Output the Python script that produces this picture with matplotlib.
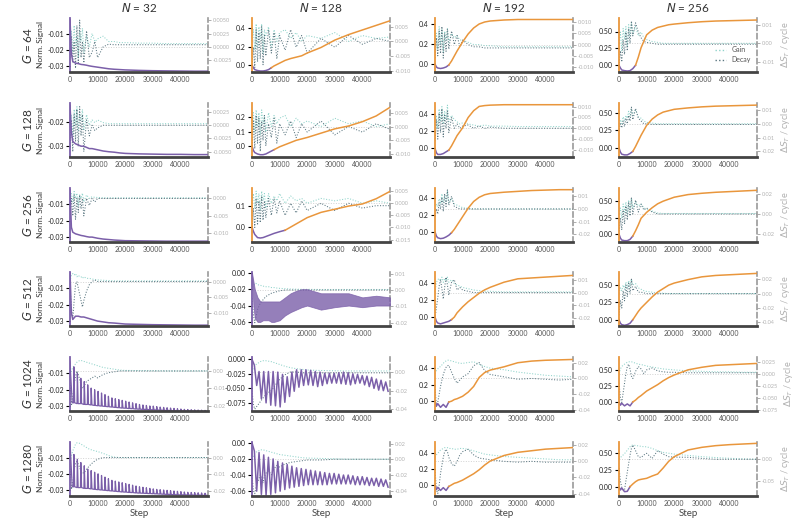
import numpy as np
import matplotlib
matplotlib.use("Agg")
import matplotlib.pyplot as plt
from matplotlib.ticker import FormatStrFormatter
from matplotlib.lines import Line2D

plt.rcParams['font.family'] = ['Lato', 'DejaVu Sans']

N_VALUES = [32, 128, 192, 256]
G_VALUES = [64, 128, 256, 512, 1024, 1280]

SIG_STEPS = [0, 500, 1000, 2000, 3000, 4000, 5000, 6000, 7000, 8000, 10000, 12000,
             14000, 16000, 18000, 20000, 25000, 30000, 35000, 40000, 45000, 50000]
GD_STEPS = [0, 500, 1000, 1500, 2000, 2500, 3000, 3500, 4000, 4500, 5000, 6000, 7000,
            8000, 9000, 10000, 12000, 14000, 16000, 18000, 20000, 25000, 30000, 35000,
            40000, 45000, 50000]

# ---- normalised signal ----
sig_g64_n32 = [-0.001, -0.022, -0.027, -0.028, -0.0283, -0.0288, -0.029, -0.0293, -0.0297, -0.030, -0.0305,
               -0.031, -0.0315, -0.0318, -0.032, -0.0322, -0.0325, -0.0327, -0.0328, -0.0329, -0.033, -0.033]
sig_g64_n128 = [0.0, -0.03, -0.05, -0.06, -0.065, -0.065, -0.06, -0.05, -0.03, -0.01, 0.02, 0.05,
                0.07, 0.085, 0.10, 0.13, 0.19, 0.27, 0.33, 0.38, 0.43, 0.48]
sig_g64_n192 = [0.0, -0.03, -0.04, -0.045, -0.04, -0.03, -0.01, 0.03, 0.08, 0.13, 0.22, 0.30,
                0.36, 0.40, 0.42, 0.43, 0.44, 0.445, 0.445, 0.445, 0.445, 0.445]
sig_g64_n256 = [0.0, -0.04, -0.07, -0.08, -0.085, -0.08, -0.05, 0.0, 0.12, 0.26, 0.45, 0.52,
                0.56, 0.58, 0.60, 0.61, 0.63, 0.645, 0.655, 0.66, 0.665, 0.67]
sig_g128_n32 = [-0.013, -0.024, -0.028, -0.029, -0.0295, -0.030, -0.030, -0.0305, -0.031, -0.031, -0.0315,
                -0.032, -0.0323, -0.0325, -0.0328, -0.033, -0.0332, -0.0333, -0.0334, -0.0334, -0.0335, -0.0335]
sig_g128_n128 = [0.0, -0.03, -0.045, -0.055, -0.06, -0.06, -0.055, -0.045, -0.035, -0.025, -0.005, 0.01,
                 0.025, 0.04, 0.05, 0.06, 0.09, 0.12, 0.14, 0.17, 0.21, 0.27]
sig_g128_n192 = [0.0, -0.05, -0.07, -0.07, -0.06, -0.04, -0.02, 0.03, 0.09, 0.15, 0.24, 0.36,
                 0.44, 0.49, 0.50, 0.505, 0.51, 0.51, 0.51, 0.51, 0.51, 0.51]
sig_g128_n256 = [0.0, -0.06, -0.09, -0.10, -0.10, -0.08, -0.05, 0.02, 0.10, 0.18, 0.32, 0.41,
                 0.47, 0.51, 0.53, 0.55, 0.57, 0.585, 0.595, 0.60, 0.605, 0.61]
sig_g256_n32 = [-0.001, -0.024, -0.027, -0.028, -0.0285, -0.029, -0.0293, -0.0297, -0.030, -0.030, -0.0307,
                -0.0312, -0.0315, -0.0318, -0.032, -0.0322, -0.0323, -0.0324, -0.0325, -0.0325, -0.0325, -0.0325]
sig_g256_n128 = [0.0, -0.02, -0.035, -0.05, -0.052, -0.05, -0.045, -0.04, -0.035, -0.03, -0.022, -0.015,
                 0.0, 0.015, 0.03, 0.045, 0.07, 0.085, 0.10, 0.11, 0.135, 0.17]
sig_g256_n192 = [0.0, -0.05, -0.07, -0.08, -0.075, -0.06, -0.04, -0.01, 0.03, 0.08, 0.18, 0.28,
                 0.36, 0.41, 0.44, 0.455, 0.47, 0.48, 0.49, 0.495, 0.50, 0.50]
sig_g256_n256 = [0.0, -0.06, -0.09, -0.10, -0.10, -0.08, -0.03, 0.05, 0.14, 0.24, 0.33, 0.40,
                 0.46, 0.50, 0.53, 0.56, 0.60, 0.62, 0.635, 0.645, 0.655, 0.665]
sig_g512_n32 = [0.0, -0.025, -0.029, -0.027, -0.027, -0.0275, -0.0275, -0.028, -0.0285, -0.029, -0.030,
                -0.0305, -0.031, -0.0312, -0.0315, -0.0318, -0.032, -0.0322, -0.0323, -0.0324, -0.0325, -0.0325]
sig_g512_n192 = [0.0, -0.05, -0.07, -0.08, -0.07, -0.06, -0.05, -0.03, 0.0, 0.05, 0.12, 0.18,
                 0.23, 0.28, 0.32, 0.35, 0.41, 0.45, 0.46, 0.47, 0.48, 0.49]
sig_g512_n256 = [0.0, -0.05, -0.07, -0.08, -0.07, -0.05, 0.0, 0.06, 0.12, 0.17, 0.25, 0.33,
                 0.40, 0.45, 0.50, 0.53, 0.58, 0.62, 0.64, 0.65, 0.66, 0.67]
sig_g1024_n192 = [0.0, -0.06, -0.03, -0.075, -0.04, -0.075, -0.01, 0.0, 0.02, 0.03, 0.06, 0.11,
                  0.18, 0.29, 0.35, 0.38, 0.42, 0.47, 0.49, 0.50, 0.505, 0.51]
sig_g1024_n256 = [0.0, -0.05, -0.02, -0.06, -0.03, -0.06, 0.0, 0.03, 0.07, 0.10, 0.17, 0.22,
                  0.27, 0.33, 0.38, 0.42, 0.50, 0.54, 0.57, 0.58, 0.59, 0.60]
sig_g1280_n192 = [0.0, -0.06, -0.03, -0.07, -0.035, -0.07, -0.02, 0.0, 0.02, 0.03, 0.06, 0.10,
                  0.14, 0.19, 0.25, 0.30, 0.37, 0.41, 0.43, 0.45, 0.46, 0.47]
sig_g1280_n256 = [0.0, -0.05, -0.02, -0.075, -0.07, 0.0, 0.04, 0.075, 0.10, 0.11, 0.125, 0.16,
                  0.19, 0.28, 0.38, 0.45, 0.55, 0.59, 0.615, 0.63, 0.64, 0.65]

# G=512, N=128: dense oscillation, read as upper / lower edge
band_hi_g512_n128 = [0.0, -0.01, -0.02, -0.03, -0.035, -0.035, -0.035, -0.035, -0.035, -0.035, -0.035,
                     -0.03, -0.025, -0.022, -0.02, -0.02, -0.025, -0.025, -0.025, -0.03, -0.028, -0.03]
band_lo_g512_n128 = [0.0, -0.04, -0.055, -0.06, -0.06, -0.058, -0.058, -0.058, -0.06, -0.06, -0.058,
                     -0.052, -0.048, -0.045, -0.042, -0.04, -0.045, -0.042, -0.04, -0.042, -0.04, -0.04]

# N=32 spikes (G=1024, G=1280): spike tops and baseline
SPIKE_START, SPIKE_EVERY = 1300, 1250
spk_top_g1024_n32 = [-0.006, -0.010, -0.013, -0.015, -0.017, -0.019, -0.020, -0.021, -0.022, -0.023,
                     -0.024, -0.025, -0.0255, -0.026, -0.0265, -0.027, -0.0275, -0.028, -0.0285, -0.029,
                     -0.0293, -0.0296, -0.0299, -0.030, -0.0303, -0.0306, -0.0308, -0.031, -0.0312, -0.0314,
                     -0.0316, -0.0318, -0.032, -0.0321, -0.0322, -0.0323, -0.0324, -0.0325, -0.0326]
spk_base_g1024_n32 = [-0.028, -0.0285, -0.0285, -0.029, -0.029, -0.0293, -0.0296, -0.0298, -0.030, -0.0302,
                      -0.0304, -0.0306, -0.0308, -0.031, -0.0312, -0.0313, -0.0315, -0.0316, -0.0318, -0.0319,
                      -0.032, -0.0321, -0.0322, -0.0323, -0.0324, -0.0325, -0.0326, -0.0327, -0.0328, -0.0329,
                      -0.033, -0.033, -0.033, -0.0331, -0.0331, -0.0332, -0.0332, -0.0333, -0.0333]
spk_top_g1280_n32 = [-0.008, -0.011, -0.013, -0.015, -0.017, -0.018, -0.019, -0.020, -0.021, -0.022,
                     -0.023, -0.024, -0.0245, -0.025, -0.0255, -0.026, -0.0265, -0.027, -0.0275, -0.028,
                     -0.0283, -0.0286, -0.029, -0.0293, -0.0296, -0.0298, -0.030, -0.0302, -0.0304, -0.0306,
                     -0.0308, -0.031, -0.0312, -0.0314, -0.0315, -0.0316, -0.0317, -0.0318, -0.032]
spk_base_g1280_n32 = [-0.028, -0.0285, -0.0285, -0.029, -0.029, -0.0293, -0.0296, -0.0298, -0.030, -0.0302,
                      -0.0304, -0.0306, -0.0308, -0.031, -0.0312, -0.0313, -0.0315, -0.0316, -0.0318, -0.0319,
                      -0.032, -0.0321, -0.0322, -0.0323, -0.0324, -0.0325, -0.0326, -0.0327, -0.0328, -0.0329,
                      -0.033, -0.033, -0.033, -0.0331, -0.0331, -0.0332, -0.0332, -0.0333, -0.0333]

# N=128 zig-zag (G=1024, G=1280): troughs at 0,1700,... peaks half way between
ZZ_HALF = 850
zz_trough_g1024_n128 = [0.0, -0.045, -0.068, -0.075, -0.079, -0.080, -0.082, -0.074, -0.064, -0.055,
                        -0.048, -0.045, -0.044, -0.045, -0.047, -0.045, -0.042, -0.041, -0.041, -0.042,
                        -0.043, -0.044, -0.042, -0.041, -0.044, -0.047, -0.050, -0.053, -0.054, -0.055]
zz_peak_g1024_n128 = [-0.010, -0.021, -0.021, -0.021, -0.021, -0.022, -0.026, -0.030, -0.022, -0.018,
                      -0.018, -0.018, -0.019, -0.021, -0.022, -0.024, -0.024, -0.024, -0.023, -0.022,
                      -0.023, -0.025, -0.026, -0.028, -0.029, -0.031, -0.034, -0.036, -0.039]
zz_trough_g1280_n128 = [0.0, -0.060, -0.064, -0.065, -0.064, -0.062, -0.060, -0.058, -0.056, -0.055,
                        -0.054, -0.053, -0.052, -0.052, -0.052, -0.052, -0.052, -0.051, -0.051, -0.051,
                        -0.051, -0.051, -0.052, -0.052, -0.052, -0.053, -0.053, -0.054, -0.054, -0.055]
zz_peak_g1280_n128 = [-0.010, -0.012, -0.015, -0.018, -0.020, -0.023, -0.025, -0.027, -0.029, -0.031,
                      -0.032, -0.033, -0.034, -0.035, -0.036, -0.037, -0.038, -0.038, -0.039, -0.040,
                      -0.040, -0.041, -0.042, -0.042, -0.043, -0.044, -0.044, -0.045, -0.046]

# ---- gain / decay per cycle ----
gain_g64_n32 = [0.001, 0.003, -0.001, 0.004, 0.0, 0.002, -0.002, 0.003, 0.001, 0.0035, -0.001, 0.002, 0.0, 0.0025,
                0.001, 0.0015, 0.002, 0.001, 0.001, 0.0008, 0.0008, 0.0007, 0.0007, 0.0006, 0.0006, 0.0006, 0.0006]
decay_g64_n32 = [-0.002, 0.002, -0.003, 0.001, -0.004, 0.004, -0.003, 0.005, -0.002, 0.001, -0.003, 0.003, -0.002,
                 -0.001, 0.001, -0.002, 0.0, 0.0005, 0.0004, 0.0004, 0.0004, 0.0004, 0.0004, 0.0004, 0.0004, 0.0004, 0.0004]
gain_g64_n128 = [0.0, 0.004, -0.003, 0.006, -0.002, 0.005, 0.001, 0.006, -0.004, 0.004, 0.002, 0.005, -0.002, 0.004,
                 0.0, 0.003, 0.004, 0.001, 0.003, 0.0, 0.002, 0.001, 0.003, 0.0, 0.002, 0.001, 0.0015]
decay_g64_n128 = [-0.008, -0.002, -0.009, 0.004, -0.007, 0.003, -0.006, 0.005, -0.008, 0.002, -0.005, 0.004, -0.004,
                  0.003, -0.006, 0.002, -0.003, 0.004, -0.002, 0.002, -0.004, 0.001, -0.002, 0.002, -0.001, 0.001, 0.0]
gain_g64_n192 = [0.0, 0.005, -0.002, 0.008, 0.0, 0.007, -0.003, 0.006, 0.002, 0.007, 0.001, 0.005, 0.003, 0.004,
                 0.002, 0.002, 0.001, 0.0, 0.0, -0.0005, -0.0005, -0.001, -0.001, -0.001, -0.001, -0.001, -0.001]
decay_g64_n192 = [-0.006, 0.003, -0.005, 0.006, -0.004, 0.008, -0.006, 0.005, -0.003, 0.007, -0.002, 0.006, 0.0,
                  0.004, -0.001, 0.002, 0.0, -0.001, -0.001, -0.0015, -0.0015, -0.0015, -0.0015, -0.0015, -0.0015,
                  -0.0015, -0.0015]
gain_g64_n256 = [0.0, 0.006, -0.004, 0.008, 0.002, 0.009, -0.002, 0.01, 0.004, 0.011, 0.005, 0.009, 0.004, 0.006,
                 0.003, 0.002, 0.001, 0.0005, 0.0, 0.0, 0.0, 0.0, 0.0, 0.0, 0.0, 0.0, 0.0]
decay_g64_n256 = [-0.012, -0.004, -0.01, 0.002, -0.006, 0.006, -0.004, 0.008, 0.0, 0.012, 0.004, 0.011, 0.006,
                  0.003, 0.001, 0.0005, 0.0, -0.0005, -0.0005, -0.0005, -0.0005, -0.0005, -0.0005, -0.0005, -0.0005,
                  -0.0005, -0.0005]
gain_g128_n32 = [0.0, 0.002, -0.002, 0.003, 0.0, 0.0035, -0.001, 0.002, 0.001, 0.003, -0.001, 0.002, 0.0, 0.001,
                 0.0005, 0.001, 0.0005, 0.0003, 0.0003, 0.0003, 0.0003, 0.0003, 0.0003, 0.0003, 0.0003, 0.0003, 0.0003]
decay_g128_n32 = [-0.004, 0.001, -0.005, 0.002, -0.003, 0.003, -0.004, 0.0035, -0.002, 0.002, -0.005, 0.001, -0.002,
                  0.0, -0.001, -0.0005, 0.0, 0.0, 0.0, 0.0, 0.0, 0.0, 0.0, 0.0, 0.0, 0.0, 0.0]
gain_g128_n128 = [0.0, 0.005, -0.002, 0.006, 0.0, 0.005, -0.003, 0.006, 0.001, 0.004, -0.002, 0.005, 0.0, 0.004,
                  0.001, 0.003, 0.004, 0.0, 0.003, 0.001, 0.002, 0.0, 0.003, 0.001, 0.002, 0.0, 0.001]
decay_g128_n128 = [-0.009, 0.002, -0.008, 0.004, -0.006, 0.003, -0.009, 0.002, -0.005, 0.004, -0.007, 0.001, -0.004,
                   0.003, -0.006, 0.001, -0.003, 0.002, -0.004, 0.001, -0.002, 0.002, -0.003, 0.0, -0.002, 0.001, -0.001]
gain_g128_n192 = [0.0, 0.006, 0.0, 0.009, 0.003, 0.01, 0.002, 0.008, 0.004, 0.0107, 0.003, 0.006, 0.004, 0.003,
                  0.002, 0.0025, 0.002, 0.0015, 0.001, 0.0015, 0.001, 0.001, 0.0008, 0.0008, 0.0008, 0.0008, 0.0008]
decay_g128_n192 = [-0.006, 0.004, -0.005, 0.007, -0.002, 0.009, -0.004, 0.006, 0.0, 0.008, -0.002, 0.005, 0.0,
                   0.002, 0.0, 0.001, 0.0015, 0.0, 0.001, 0.0, 0.0005, 0.0, 0.0, 0.0, 0.0, 0.0, 0.0]
gain_g128_n256 = [0.0, 0.003, 0.0, 0.005, 0.002, 0.006, 0.004, 0.009, 0.005, 0.011, 0.006, 0.010, 0.005, 0.004,
                  0.002, 0.001, 0.0005, 0.0, 0.0, 0.0, 0.0, 0.0, 0.0, 0.0, 0.0, 0.0, 0.0]
decay_g128_n256 = [-0.004, 0.0, -0.003, 0.002, -0.002, 0.004, 0.0, 0.006, 0.002, 0.012, 0.003, 0.011, 0.004, 0.002,
                   0.0, 0.0, -0.0005, -0.0005, -0.0005, -0.0005, -0.0005, -0.0005, -0.0005, -0.0005, -0.0005,
                   -0.0005, -0.0005]
gain_g256_n32 = [0.0, 0.0015, -0.001, 0.002, 0.0, 0.0015, -0.002, 0.001, 0.0, 0.0015, -0.001, 0.001, 0.0, 0.0005,
                 0.0003, 0.0003, 0.0002, 0.0002, 0.0002, 0.0002, 0.0002, 0.0002, 0.0002, 0.0002, 0.0002, 0.0002, 0.0002]
decay_g256_n32 = [-0.004, 0.0, -0.005, 0.001, -0.006, 0.0, -0.004, 0.001, -0.003, 0.0, -0.005, 0.0, -0.002, 0.0,
                  -0.001, 0.0, 0.0, 0.0, 0.0, 0.0, 0.0, 0.0, 0.0, 0.0, 0.0, 0.0, 0.0]
gain_g256_n128 = [0.0, 0.004, -0.002, 0.005, 0.0, 0.004, -0.003, 0.005, 0.001, 0.004, -0.002, 0.004, 0.0, 0.003,
                  0.001, 0.004, 0.0, 0.003, 0.001, 0.002, 0.0, 0.002, 0.001, 0.002, 0.0, 0.001, 0.0]
decay_g256_n128 = [-0.012, -0.002, -0.01, 0.002, -0.009, 0.001, -0.008, 0.003, -0.007, 0.001, -0.006, 0.002, -0.005,
                   0.002, -0.004, 0.001, -0.005, 0.0, -0.004, 0.001, -0.003, 0.0, -0.003, 0.0, -0.002, -0.001, -0.001]
gain_g256_n192 = [0.0, 0.004, 0.002, 0.008, 0.004, 0.012, 0.005, 0.01, 0.006, 0.014, 0.005, 0.008, 0.004, 0.003,
                  0.002, 0.001, 0.0005, 0.0, 0.0, 0.0, 0.0, 0.0, 0.0, 0.0, 0.0, 0.0, 0.0]
decay_g256_n192 = [-0.006, 0.0, -0.004, 0.005, 0.0, 0.009, -0.002, 0.012, 0.002, 0.015, 0.003, 0.01, 0.002, 0.001,
                   0.0, 0.0, 0.0, 0.0, 0.0, 0.0, 0.0, 0.0, 0.0, 0.0, 0.0, 0.0, 0.0]
gain_g256_n256 = [0.0, 0.006, -0.004, 0.01, 0.002, 0.012, 0.0, 0.014, 0.004, 0.016, 0.006, 0.012, 0.008, 0.01,
                  0.006, 0.005, 0.003, 0.001, 0.0005, 0.0005, 0.0005, 0.0005, 0.0005, 0.0005, 0.0005, 0.0005, 0.0005]
decay_g256_n256 = [-0.02, -0.004, -0.016, 0.004, -0.01, 0.008, -0.006, 0.012, -0.002, 0.016, 0.0, 0.014, 0.002,
                   0.01, 0.004, 0.006, 0.002, 0.0, 0.0, 0.0, 0.0, 0.0, 0.0, 0.0, 0.0, 0.0, 0.0]
gain_g512_n32 = [0.0, 0.002, 0.0025, 0.002, 0.0025, 0.0015, 0.002, 0.0015, 0.0015, 0.001, 0.0015, 0.001, 0.001,
                 0.0008, 0.0006, 0.0005, 0.0004, 0.0003, 0.0002, 0.0002, 0.0002, 0.0002, 0.0002, 0.0002, 0.0002,
                 0.0002, 0.0002]
decay_g512_n32 = [-0.002, -0.008, -0.012, -0.006, -0.001, 0.0, -0.002, -0.004, -0.006, -0.008, -0.006, -0.003,
                  -0.001, 0.0, 0.0005, 0.0, 0.0, 0.0, 0.0, 0.0, 0.0, 0.0, 0.0, 0.0, 0.0, 0.0, 0.0]
gain_g512_n128 = [0.0, 0.003, 0.004, 0.004, 0.0035, 0.003, 0.003, 0.0025, 0.0025, 0.002, 0.002, 0.002, 0.0015,
                  0.0015, 0.0012, 0.001, 0.0008, 0.0006, 0.0005, 0.0004, 0.0004, 0.0003, 0.0003, 0.0003, 0.0003,
                  0.0003, 0.0003]
decay_g512_n128 = [-0.005, -0.015, -0.02, -0.016, -0.012, -0.01, -0.008, -0.007, -0.006, -0.005, -0.004, -0.003,
                   -0.002, -0.0015, -0.001, -0.0005, 0.0, 0.0, 0.0, 0.0, 0.0, 0.0, 0.0, 0.0, 0.0, 0.0, 0.0]
gain_g512_n192 = [0.0, 0.008, 0.01, 0.011, 0.009, 0.012, 0.008, 0.011, 0.009, 0.012, 0.008, 0.01, 0.007, 0.006,
                  0.005, 0.004, 0.003, 0.002, 0.0015, 0.001, 0.001, 0.0005, 0.0005, 0.0005, 0.0005, 0.0005, 0.0005]
decay_g512_n192 = [-0.02, -0.012, -0.004, 0.005, 0.01, 0.003, -0.005, 0.004, 0.012, 0.006, -0.002, 0.008, 0.01,
                   0.002, 0.004, 0.002, 0.001, 0.0, 0.0, 0.0, 0.0, 0.0, 0.0, 0.0, 0.0, 0.0, 0.0]
gain_g512_n256 = [0.0, 0.008, 0.004, 0.012, 0.006, 0.016, 0.008, 0.018, 0.01, 0.02, 0.012, 0.014, 0.008, 0.006,
                  0.004, 0.003, 0.002, 0.001, 0.0005, 0.0, 0.0, 0.0, 0.0, 0.0, 0.0, 0.0, 0.0]
decay_g512_n256 = [-0.03, -0.01, -0.02, 0.004, -0.01, 0.012, -0.004, 0.016, 0.0, 0.02, 0.004, 0.01, 0.002, 0.002,
                   0.001, 0.0, 0.0, 0.0, 0.0, 0.0, 0.0, 0.0, 0.0, 0.0, 0.0, 0.0, 0.0]
gain_g1024_n32 = [-0.002, 0.0, 0.002, 0.003, 0.004, 0.005, 0.0055, 0.006, 0.006, 0.0058, 0.0055, 0.005, 0.0045,
                  0.004, 0.0035, 0.003, 0.002, 0.0015, 0.001, 0.0005, 0.0003, 0.0002, 0.0001, 0.0, 0.0, 0.0, 0.0]
decay_g1024_n32 = [-0.005, -0.02, -0.015, -0.008, -0.003, 0.0, -0.002, -0.005, -0.008, -0.01, -0.009, -0.006,
                   -0.005, -0.004, -0.003, -0.004, -0.002, -0.001, -0.0005, 0.0, 0.0, 0.0, 0.0, 0.0, 0.0, 0.0, 0.0]
gain_g1024_n128 = [0.0, 0.004, 0.006, 0.008, 0.009, 0.010, 0.011, 0.0115, 0.012, 0.012, 0.012, 0.0115, 0.011,
                   0.010, 0.009, 0.008, 0.006, 0.0045, 0.0035, 0.0028, 0.002, 0.0015, 0.0012, 0.001, 0.001, 0.001,
                   0.001]
decay_g1024_n128 = [-0.02, -0.035, -0.04, -0.038, -0.036, -0.034, -0.032, -0.03, -0.028, -0.026, -0.025, -0.022,
                    -0.02, -0.016, -0.012, -0.008, -0.003, 0.0, 0.0, -0.001, -0.001, -0.001, -0.001, -0.001, -0.001,
                    -0.001, -0.001]
gain_g1024_n192 = [0.006, 0.01, 0.012, 0.014, 0.015, 0.017, 0.019, 0.021, 0.022, 0.023, 0.023, 0.022, 0.021, 0.020,
                   0.019, 0.019, 0.020, 0.021, 0.018, 0.015, 0.013, 0.011, 0.008, 0.006, 0.004, 0.003, 0.002]
decay_g1024_n192 = [-0.01, -0.035, -0.03, -0.02, -0.01, -0.002, 0.005, 0.01, 0.014, 0.016, 0.0165, 0.008, 0.0,
                    -0.006, -0.002, 0.002, 0.006, 0.016, 0.02, 0.01, 0.005, 0.002, -0.001, 0.0, -0.001, -0.002, -0.001]
gain_g1024_n256 = [0.0, 0.01, 0.015, 0.018, 0.02, 0.022, 0.024, 0.025, 0.025, 0.025, 0.024, 0.022, 0.02, 0.019,
                   0.018, 0.016, 0.014, 0.012, 0.010, 0.009, 0.008, 0.006, 0.005, 0.004, 0.004, 0.003, 0.003]
decay_g1024_n256 = [-0.02, -0.05, -0.06, -0.04, -0.02, 0.0, 0.015, 0.02, 0.01, -0.005, -0.01, 0.005, 0.015, 0.01,
                    0.0, 0.008, 0.012, 0.006, 0.004, 0.003, 0.003, 0.002, 0.002, 0.002, 0.002, 0.002, 0.002]
gain_g1280_n32 = [-0.002, 0.001, 0.004, 0.006, 0.008, 0.0088, 0.0088, 0.0085, 0.008, 0.0075, 0.007, 0.006, 0.005,
                  0.0045, 0.004, 0.0036, 0.0025, 0.0012, 0.0003, 0.0, 0.0, 0.0, 0.0, 0.0, 0.0, 0.0, 0.0]
decay_g1280_n32 = [-0.005, -0.019, -0.015, -0.008, -0.003, -0.0024, -0.004, -0.006, -0.008, -0.009, -0.0093,
                   -0.007, -0.005, -0.0034, -0.002, -0.001, 0.0, 0.0, 0.0, 0.0, 0.0, 0.0, 0.0, 0.0, 0.0, 0.0, 0.0]
gain_g1280_n128 = [0.0, 0.004, 0.007, 0.009, 0.010, 0.011, 0.012, 0.012, 0.012, 0.0115, 0.011, 0.010, 0.009, 0.008,
                   0.007, 0.006, 0.005, 0.004, 0.003, 0.002, 0.0015, 0.001, 0.0005, 0.0, 0.0, 0.0, 0.0]
decay_g1280_n128 = [-0.02, -0.04, -0.044, -0.035, -0.03, -0.025, -0.02, -0.025, -0.03, -0.022, -0.018, -0.015,
                    -0.02, -0.012, -0.008, -0.01, -0.006, -0.004, -0.003, -0.002, -0.001, -0.001, 0.0, 0.0, 0.0, 0.0,
                    0.0]
gain_g1280_n192 = [0.005, 0.008, 0.01, 0.012, 0.014, 0.015, 0.016, 0.017, 0.017, 0.017, 0.016, 0.016, 0.015, 0.015,
                   0.016, 0.016, 0.015, 0.013, 0.011, 0.009, 0.008, 0.006, 0.005, 0.004, 0.003, 0.002, 0.002]
decay_g1280_n192 = [-0.01, -0.035, -0.04, -0.03, -0.015, -0.005, 0.005, 0.012, 0.015, 0.012, 0.005, -0.003, -0.006,
                    0.0, 0.008, 0.012, 0.015, 0.008, 0.004, 0.003, 0.002, 0.0, -0.001, 0.0, -0.001, -0.001, -0.001]
gain_g1280_n256 = [0.0, 0.004, 0.007, 0.01, 0.013, 0.017, 0.021, 0.025, 0.029, 0.032, 0.033, 0.032, 0.031, 0.030,
                   0.029, 0.029, 0.025, 0.020, 0.016, 0.014, 0.012, 0.009, 0.006, 0.004, 0.0023, 0.001, 0.0]
decay_g1280_n256 = [-0.02, -0.05, -0.065, -0.071, -0.071, -0.05, -0.03, -0.01, 0.01, 0.025, 0.033, 0.02, 0.006,
                    0.004, 0.01, 0.0138, 0.002, 0.02, 0.012, 0.006, 0.005, 0.0046, 0.002, 0.0, 0.0, 0.0, 0.0]

SIGNAL = {
    (64, 32): sig_g64_n32, (64, 128): sig_g64_n128, (64, 192): sig_g64_n192, (64, 256): sig_g64_n256,
    (128, 32): sig_g128_n32, (128, 128): sig_g128_n128, (128, 192): sig_g128_n192, (128, 256): sig_g128_n256,
    (256, 32): sig_g256_n32, (256, 128): sig_g256_n128, (256, 192): sig_g256_n192, (256, 256): sig_g256_n256,
    (512, 32): sig_g512_n32, (512, 192): sig_g512_n192, (512, 256): sig_g512_n256,
    (1024, 192): sig_g1024_n192, (1024, 256): sig_g1024_n256,
    (1280, 192): sig_g1280_n192, (1280, 256): sig_g1280_n256,
}
SPIKES = {(1024, 32): (-0.003, spk_top_g1024_n32, spk_base_g1024_n32),
          (1280, 32): (0.0, spk_top_g1280_n32, spk_base_g1280_n32)}
ZIGZAG = {(1024, 128): (zz_trough_g1024_n128, zz_peak_g1024_n128),
          (1280, 128): (zz_trough_g1280_n128, zz_peak_g1280_n128)}
GAIN = {
    (64, 32): gain_g64_n32, (64, 128): gain_g64_n128, (64, 192): gain_g64_n192, (64, 256): gain_g64_n256,
    (128, 32): gain_g128_n32, (128, 128): gain_g128_n128, (128, 192): gain_g128_n192, (128, 256): gain_g128_n256,
    (256, 32): gain_g256_n32, (256, 128): gain_g256_n128, (256, 192): gain_g256_n192, (256, 256): gain_g256_n256,
    (512, 32): gain_g512_n32, (512, 128): gain_g512_n128, (512, 192): gain_g512_n192, (512, 256): gain_g512_n256,
    (1024, 32): gain_g1024_n32, (1024, 128): gain_g1024_n128, (1024, 192): gain_g1024_n192,
    (1024, 256): gain_g1024_n256, (1280, 32): gain_g1280_n32, (1280, 128): gain_g1280_n128,
    (1280, 192): gain_g1280_n192, (1280, 256): gain_g1280_n256}
DECAY = {
    (64, 32): decay_g64_n32, (64, 128): decay_g64_n128, (64, 192): decay_g64_n192, (64, 256): decay_g64_n256,
    (128, 32): decay_g128_n32, (128, 128): decay_g128_n128, (128, 192): decay_g128_n192, (128, 256): decay_g128_n256,
    (256, 32): decay_g256_n32, (256, 128): decay_g256_n128, (256, 192): decay_g256_n192, (256, 256): decay_g256_n256,
    (512, 32): decay_g512_n32, (512, 128): decay_g512_n128, (512, 192): decay_g512_n192, (512, 256): decay_g512_n256,
    (1024, 32): decay_g1024_n32, (1024, 128): decay_g1024_n128, (1024, 192): decay_g1024_n192,
    (1024, 256): decay_g1024_n256, (1280, 32): decay_g1280_n32, (1280, 128): decay_g1280_n128,
    (1280, 192): decay_g1280_n192, (1280, 256): decay_g1280_n256}

# step where the curve turns from purple to orange
SWITCH = {(64, 128): 7000, (128, 128): 8000, (256, 128): 12000,
          (64, 192): 5000, (128, 192): 5000, (256, 192): 6000, (512, 192): 6000, (1024, 192): 5000, (1280, 192): 5000,
          (64, 256): 6000, (128, 256): 5000, (256, 256): 5000, (512, 256): 5000, (1024, 256): 5000, (1280, 256): 4000}

# axis setup: (limits, ticks, decimals)
LEFT = {
    (64, 32): ((-0.0335, 0.0), [-0.03, -0.02, -0.01], 2), (64, 128): ((-0.076, 0.51), [0, 0.2, 0.4], 1),
    (64, 192): ((-0.08, 0.46), [0, 0.2, 0.4], 1), (64, 256): ((-0.10, 0.70), [0, 0.25, 0.5], 2),
    (128, 32): ((-0.0345, -0.012), [-0.03, -0.02], 2), (128, 128): ((-0.076, 0.30), [0, 0.1, 0.2], 1),
    (128, 192): ((-0.10, 0.53), [0, 0.2, 0.4], 1), (128, 256): ((-0.13, 0.64), [0, 0.25, 0.5], 2),
    (256, 32): ((-0.033, 0.0), [-0.03, -0.02, -0.01], 2), (256, 128): ((-0.071, 0.186), [0, 0.1], 1),
    (256, 192): ((-0.12, 0.52), [0, 0.2, 0.4], 1), (256, 256): ((-0.12, 0.70), [0, 0.25, 0.5], 2),
    (512, 32): ((-0.033, 0.0), [-0.03, -0.02, -0.01], 2), (512, 128): ((-0.065, 0.001), [-0.06, -0.04, -0.02, 0], 2),
    (512, 192): ((-0.105, 0.53), [0, 0.2, 0.4], 1), (512, 256): ((-0.09, 0.69), [0, 0.25, 0.5], 2),
    (1024, 32): ((-0.033, 0.0), [-0.03, -0.02, -0.01], 2), (1024, 128): ((-0.089, 0.004), [-0.075, -0.05, -0.025, 0], 3),
    (1024, 192): ((-0.12, 0.54), [0, 0.2, 0.4], 1), (1024, 256): ((-0.14, 0.70), [0, 0.25, 0.5], 2),
    (1280, 32): ((-0.0337, -0.0003), [-0.03, -0.02, -0.01], 2), (1280, 128): ((-0.066, 0.001), [-0.06, -0.04, -0.02, 0], 2),
    (1280, 192): ((-0.14, 0.54), [0, 0.2, 0.4], 1), (1280, 256): ((-0.14, 0.67), [0, 0.25, 0.5], 2),
}
RIGHT = {
    (64, 32): ((-0.0047, 0.0054), [-0.0025, 0, 0.0025, 0.005], 4), (64, 128): ((-0.0105, 0.008), [-0.01, -0.005, 0, 0.005], 3),
    (64, 192): ((-0.0122, 0.0118), [-0.01, -0.005, 0, 0.005, 0.01], 3), (64, 256): ((-0.0154, 0.0136), [-0.01, 0, 0.01], 2),
    (128, 32): ((-0.006, 0.0042), [-0.005, -0.0025, 0, 0.0025], 4), (128, 128): ((-0.011, 0.0085), [-0.01, -0.005, 0, 0.005], 3),
    (128, 192): ((-0.0133, 0.0117), [-0.01, -0.005, 0, 0.005, 0.01], 3), (128, 256): ((-0.024, 0.015), [-0.02, -0.01, 0, 0.01], 2),
    (256, 32): ((-0.0125, 0.003), [-0.01, -0.005, 0], 3), (256, 128): ((-0.016, 0.0063), [-0.015, -0.01, -0.005, 0, 0.005], 3),
    (256, 192): ((-0.026, 0.0165), [-0.02, -0.01, 0, 0.01], 2), (256, 256): ((-0.028, 0.026), [-0.02, 0, 0.02], 2),
    (512, 32): ((-0.014, 0.003), [-0.01, -0.005, 0], 3), (512, 128): ((-0.022, 0.011), [-0.02, -0.01, 0, 0.01], 2),
    (512, 192): ((-0.026, 0.016), [-0.02, -0.01, 0, 0.01], 2), (512, 256): ((-0.045, 0.03), [-0.04, -0.02, 0, 0.02], 2),
    (1024, 32): ((-0.023, 0.008), [-0.02, -0.01, 0], 2), (1024, 128): ((-0.042, 0.016), [-0.04, -0.02, 0], 2),
    (1024, 192): ((-0.041, 0.027), [-0.04, -0.02, 0, 0.02], 2), (1024, 256): ((-0.078, 0.035), [-0.075, -0.05, -0.025, 0, 0.025], 3),
    (1280, 32): ((-0.023, 0.0093), [-0.02, -0.01, 0], 2), (1280, 128): ((-0.047, 0.022), [-0.04, -0.02, 0, 0.02], 2),
    (1280, 192): ((-0.043, 0.024), [-0.04, -0.02, 0, 0.02], 2), (1280, 256): ((-0.085, 0.040), [-0.05, 0], 2),
}

PURPLE = '#7b5fa9'
ORANGE = '#e9963c'
TEAL = '#8fd3ca'
SLATE = '#5a7680'
DOTS = (0, (1, 1.6))

W, H = 796, 523
fig = plt.figure(figsize=(W / 100, H / 100), dpi=100)
col_left = [70, 252, 435, 619]
row_top = [18, 103, 188, 272, 357, 442]
pw, ph = 138, 54

for r, g in enumerate(G_VALUES):
    for c, n in enumerate(N_VALUES):
        key = (g, n)
        ax = fig.add_axes([col_left[c] / W, 1 - (row_top[r] + ph) / H, pw / W, ph / H])
        ax2 = ax.twinx()
        ax.set_zorder(ax2.get_zorder() + 1)
        ax.patch.set_visible(False)

        # gain / decay on the right axis
        ax2.axhline(0, color='#d2d2d2', ls=DOTS, lw=0.7)
        ax2.plot(GD_STEPS, GAIN[key], color=TEAL, ls=DOTS, lw=0.75)
        ax2.plot(GD_STEPS, DECAY[key], color=SLATE, ls=DOTS, lw=0.75)

        has_orange = key in SWITCH
        if key in SIGNAL:
            x = np.array(SIG_STEPS)
            y = np.array(SIGNAL[key])
            if has_orange:
                sw = SWITCH[key]
                ax.plot(x[x <= sw], y[x <= sw], color=PURPLE, lw=1.1)
                ax.plot(x[x >= sw], y[x >= sw], color=ORANGE, lw=1.1)
            else:
                ax.plot(x, y, color=PURPLE, lw=1.1)
        elif key in SPIKES:
            start, tops, bases = SPIKES[key]
            xs, ys = [0, 800], [start, bases[0]]
            for i, (t, b) in enumerate(zip(tops, bases)):
                s = SPIKE_START + SPIKE_EVERY * i
                xs += [s, s + 120, s + 400]
                ys += [b, t, b]
            xs.append(50000)
            ys.append(bases[-1])
            ax.plot(xs, ys, color=PURPLE, lw=0.9)
        elif key in ZIGZAG:
            troughs, peaks = ZIGZAG[key]
            vals = np.empty(len(troughs) + len(peaks))
            vals[0::2] = troughs
            vals[1::2] = peaks
            ax.plot(np.arange(len(vals)) * ZZ_HALF, vals, color=PURPLE, lw=1.1)
        else:
            ax.fill_between(SIG_STEPS, band_lo_g512_n128, band_hi_g512_n128, color=PURPLE, alpha=0.8, lw=0.6)

        (lo, hi), ticks, dec = LEFT[key]
        ax.set_ylim(lo, hi)
        ax.set_yticks(ticks)
        ax.yaxis.set_major_formatter(FormatStrFormatter('%%.%df' % dec))
        (lo, hi), ticks, dec = RIGHT[key]
        ax2.set_ylim(lo, hi)
        ax2.set_yticks(ticks)
        ax2.yaxis.set_major_formatter(FormatStrFormatter('%%.%df' % dec))

        ax.set_xlim(0, 50000)
        ax.set_xticks([0, 10000, 20000, 30000, 40000])
        ax.tick_params(axis='x', labelsize=5, labelcolor='#555555', length=0, pad=3)
        ax.tick_params(axis='y', labelsize=5, labelcolor='#222222', length=3, width=0.8, pad=1.5)
        ax2.tick_params(axis='y', labelsize=4.1, labelcolor='#b4b4b4', color='#a0a0a0',
                        length=2, width=0.6, pad=1.2)

        for a in (ax, ax2):
            a.spines['top'].set_visible(False)
        ax2.spines['left'].set_visible(False)
        ax2.spines['bottom'].set_visible(False)
        ax.spines['right'].set_visible(False)
        ax.spines['bottom'].set_color('#444444')
        ax.spines['bottom'].set_linewidth(2)
        ax.spines['left'].set_color(ORANGE if has_orange else PURPLE)
        ax.spines['left'].set_linewidth(1.3)
        ax2.spines['right'].set_color('#9a9a9a')
        ax2.spines['right'].set_linewidth(1.2)
        ax2.spines['right'].set_linestyle((0, (3, 2)))

        if r == 0:
            ax.set_title(r'$N$ = %d' % n, fontsize=8.5, color='#333333', pad=4)
        if c == 0:
            ax.set_ylabel('Norm. Signal', fontsize=6, color='#333333', labelpad=2)
            fig.text(27 / W, 1 - (row_top[r] + ph / 2) / H, r'$G$ = %d' % g, rotation=90,
                     fontsize=8.5, color='#333333', ha='center', va='center')
        if c == 3:
            ax2.set_ylabel(r'$\Delta S_T$ / cycle', fontsize=6.5, color='#b0b0b0', labelpad=3)
        if r == len(G_VALUES) - 1:
            ax.set_xlabel('Step', fontsize=7, color='#444444', labelpad=1)
        if r == 0 and c == 3:
            handles = [Line2D([], [], color=TEAL, ls=DOTS, lw=1.0),
                       Line2D([], [], color=SLATE, ls=DOTS, lw=1.0)]
            ax.legend(handles, ['Gain', 'Decay'], loc='lower right', fontsize=5, frameon=False,
                      handlelength=1.6, labelspacing=0.4, bbox_to_anchor=(1.0, 0.05),
                      labelcolor='#555555')

fig.savefig('out.png', dpi=100)
